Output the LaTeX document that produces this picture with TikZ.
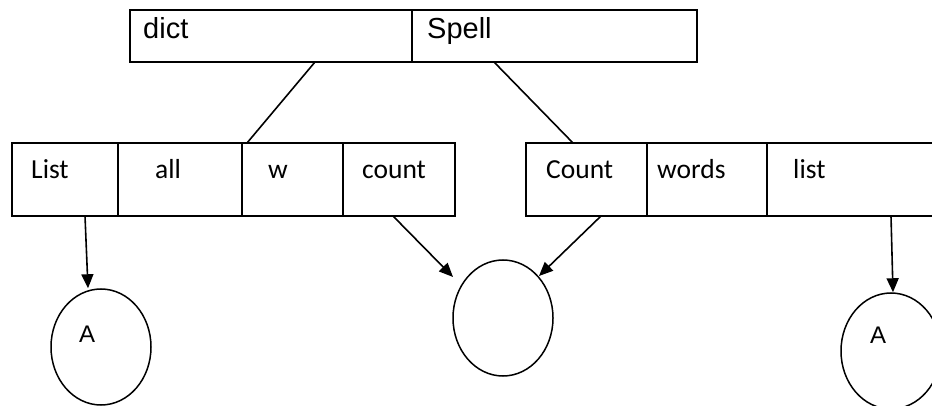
\documentclass[tikz,border=0pt]{standalone}
\usepackage{fontspec}
\setmainfont{Liberation Sans}
\newfontfamily\cellfont{Carlito}
\usetikzlibrary{shapes.geometric,arrows.meta,calc}
\begin{document}
\begin{tikzpicture}[x=1pt,y=-1pt,
  cell/.style={draw,line width=1.6pt,inner sep=0pt,outer sep=0pt,anchor=north west,minimum height=#1},
  toptext/.style={inner sep=0pt,anchor=base west,font=\fontsize{29}{33}\selectfont},
  celltext/.style={inner sep=0pt,anchor=base west,font=\cellfont\fontsize{27.5}{31}\selectfont},
  atext/.style={inner sep=0pt,anchor=base west,font=\fontsize{24}{28}\selectfont},
  oval/.style={draw,ellipse,line width=1.5pt,minimum width=100pt,minimum height=116pt,inner sep=0pt},
  link/.style={line width=1.6pt},
  arr/.style={line width=1.6pt,-{Triangle[length=14pt,width=12pt]}}]
\useasboundingbox (0,0) rectangle (932,406);
\clip (0,0) rectangle (932,406);
% top box
\node[cell=52pt,minimum width=282pt] (dict) at (130,10) {};
\node[cell=52pt,minimum width=285pt] (spell) at (412,10) {};
\node[toptext] (tdict) at (143,39) {dict};
\node[toptext] (tspell) at (427,39) {Spell};
% left box
\node[cell=73pt,minimum width=106pt] (L1) at (12,143) {};
\node[cell=73pt,minimum width=124pt] (L2) at (118,143) {};
\node[cell=73pt,minimum width=101pt] (L3) at (242,143) {};
\node[cell=73pt,minimum width=112pt] (L4) at (343,143) {};
\node[celltext] (tL1) at (31,179) {List};
\node[celltext] (tL2) at (155,179) {all};
\node[celltext] (tL3) at (268,179) {w};
\node[celltext] (tL4) at (362,179) {count};
% right box
\node[cell=73pt,minimum width=121pt] (R1) at (526,143) {};
\node[cell=73pt,minimum width=120pt] (R2) at (647,143) {};
\node[cell=73pt,minimum width=190pt] (R3) at (767,143) {};
\node[celltext] (tR1) at (546,179) {Count};
\node[celltext] (tR2) at (657,179) {words};
\node[celltext] (tR3) at (793,179) {list};
% ovals
\node[oval] (A1) at (101,347) {};
\node[oval] (M) at (503,318) {};
\node[oval] (A2) at (891,351) {};
\node[atext] (tA1) at (79,342) {A};
\node[atext] (tA2) at (870,343) {A};
% connectors
\draw[link] ([xshift=-97pt]dict.south east) -- ([xshift=5pt]L3.north west);
\draw[link] ([xshift=82pt]spell.south west) -- ([xshift=47pt]R1.north west);
\draw[arr] ([xshift=20pt]L1.south) -- ([xshift=-13pt]A1.north);
\draw[arr] ([xshift=50pt]L4.south west) -- ($(M.center)+(-50,-41)$);
\draw[arr] ([xshift=75pt]R1.south west) -- ($(M.center)+(36,-42)$);
\draw[arr] ([xshift=124pt]R3.south west) -- ([xshift=2pt]A2.north);
\end{tikzpicture}
\end{document}
